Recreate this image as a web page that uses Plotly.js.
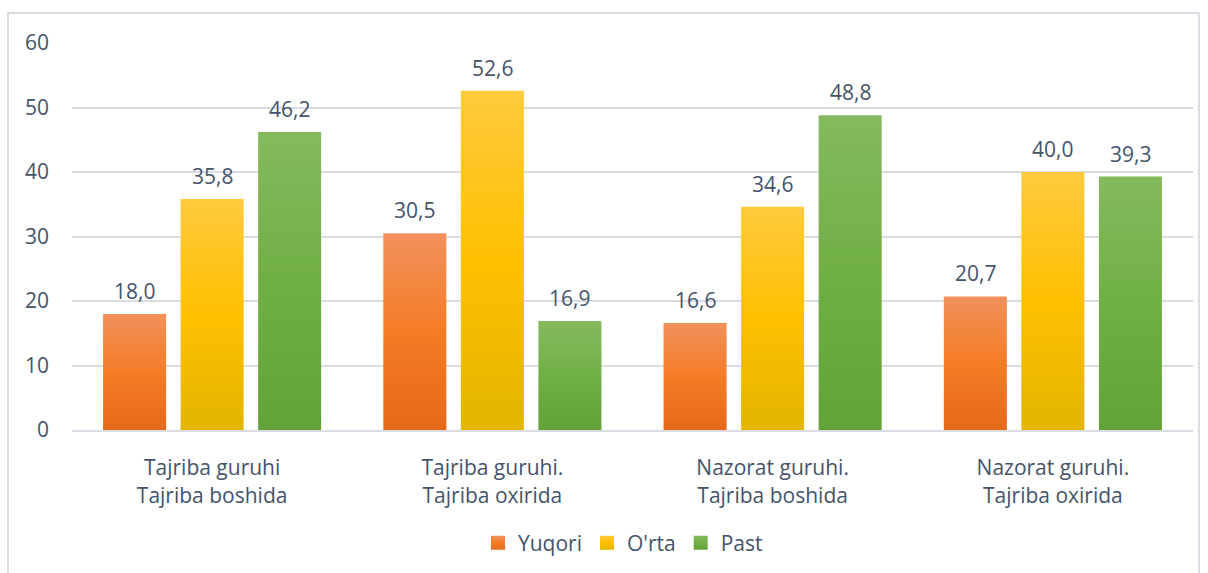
<!DOCTYPE html>
<html>
<head>
<meta charset="utf-8">
<script src="https://cdn.plot.ly/plotly-3.0.1.min.js"></script>
<style>
html,body{margin:0;padding:0;background:#fff;}
#chart{width:1208px;height:573px;}
</style>
</head>
<body>
<div id="chart"></div>
<script>
const categories = ["Tajriba guruhi<br>Tajriba boshida", "Tajriba guruhi.<br>Tajriba oxirida", "Nazorat guruhi.<br>Tajriba boshida", "Nazorat guruhi.<br>Tajriba oxirida"];
const seriesNames = ["Yuqori", "O'rta", "Past"];
const yuqori = [18.0, 30.5, 16.6, 20.7];
const orta = [35.8, 52.6, 34.6, 40.0];
const past = [46.2, 16.9, 48.8, 39.3];
const seriesValues = [yuqori, orta, past];
const baseColors = ["#ED7D31", "#FFC000", "#70AD47"];
const gradStops = [
  ["#F1915C", "#F47C26", "#E5691A"],
  ["#FFCA3E", "#FFC000", "#E2B500"],
  ["#84BA5E", "#70AF45", "#62A238"]
];
const textColor = "#44546A";
const fontFamily = "Open Sans, sans-serif";
const fs = 21;

const W = 1208, H = 573, ML = 72, MR = 15, MT = 43, MB = 143;
const bargap = 0.17;
const catPx = (W - ML - MR) / categories.length;
const slotPx = catPx * (1 - bargap) / seriesNames.length;

const traces = seriesNames.map((name, i) => ({
  type: "bar",
  name: name,
  x: categories,
  y: seriesValues[i],
  marker: {color: baseColors[i], line: {width: 0}},
  hoverinfo: "none"
}));

const annotations = [];
seriesValues.forEach((vals, i) => {
  vals.forEach((v, j) => {
    annotations.push({
      xref: "x", yref: "y", x: categories[j], y: v,
      text: v.toFixed(1).replace(".", ","),
      showarrow: false, xanchor: "center", yanchor: "middle",
      xshift: (i - 1) * slotPx, yshift: 23,
      font: {family: fontFamily, size: fs, color: textColor}
    });
  });
});

const layout = {
  width: W, height: H,
  margin: {l: ML, r: MR, t: MT, b: MB},
  paper_bgcolor: "#fff", plot_bgcolor: "#fff",
  separators: ", ",
  barmode: "group",
  bargap: bargap,
  bargroupgap: 0.187,
  font: {family: fontFamily, size: fs, color: textColor},
  showlegend: true,
  legend: {orientation: "h", xref: "container", yref: "container",
           x: 623 / W, xanchor: "center", y: (H - 543) / H, yanchor: "middle",
           font: {family: fontFamily, size: fs, color: textColor}, traceorder: "normal",
           itemwidth: 30},
  xaxis: {type: "category", showgrid: false, showline: true, linecolor: "#d9dde3", linewidth: 2,
          ticks: "", ticklabelstandoff: 18, automargin: false,
          tickfont: {family: fontFamily, size: fs, color: textColor}, fixedrange: true},
  yaxis: {range: [0, 60], dtick: 10, showgrid: true, gridcolor: "#d9dde3", gridwidth: 2,
          zeroline: false, showline: false, ticks: "", ticklabelstandoff: 22, automargin: false,
          tickfont: {family: fontFamily, size: fs, color: textColor}, fixedrange: true},
  annotations: annotations,
  shapes: [{type: "rect", xref: "paper", yref: "paper",
            x0: (8 - ML) / (W - ML - MR), x1: (1199 - ML) / (W - ML - MR),
            y0: -0.6, y1: (H - MB - 13) / (H - MT - MB),
            line: {color: "#d9dde3", width: 2}, fillcolor: "rgba(0,0,0,0)", layer: "below"}]
};

const gd = document.getElementById("chart");
Plotly.newPlot(gd, traces, layout, {displayModeBar: false, staticPlot: true}).then(() => {
  const svg = gd.querySelector("svg.main-svg");
  let defs = svg.querySelector("defs");
  const ns = "http://www.w3.org/2000/svg";
  if (!defs) { defs = document.createElementNS(ns, "defs"); svg.insertBefore(defs, svg.firstChild); }
  gradStops.forEach((stops, i) => {
    const lg = document.createElementNS(ns, "linearGradient");
    lg.setAttribute("id", "barGrad" + i);
    lg.setAttribute("x1", "0"); lg.setAttribute("y1", "0");
    lg.setAttribute("x2", "0"); lg.setAttribute("y2", "1");
    stops.forEach((c, k) => {
      const s = document.createElementNS(ns, "stop");
      s.setAttribute("offset", (k / (stops.length - 1) * 100) + "%");
      s.setAttribute("stop-color", c);
      lg.appendChild(s);
    });
    defs.appendChild(lg);
  });
  gd.querySelectorAll(".barlayer .trace").forEach((tr, i) => {
    tr.querySelectorAll(".point path").forEach(p => { p.style.fill = "url(#barGrad" + i + ")"; });
  });
  gd.querySelectorAll(".legend .traces").forEach((tr, i) => {
    tr.querySelectorAll(".legendpoints path").forEach(p => {
      p.style.fill = "url(#barGrad" + i + ")";
      p.setAttribute("d", "M7,7H-7V-7H7Z");
    });
  });
});
</script>
</body>
</html>
